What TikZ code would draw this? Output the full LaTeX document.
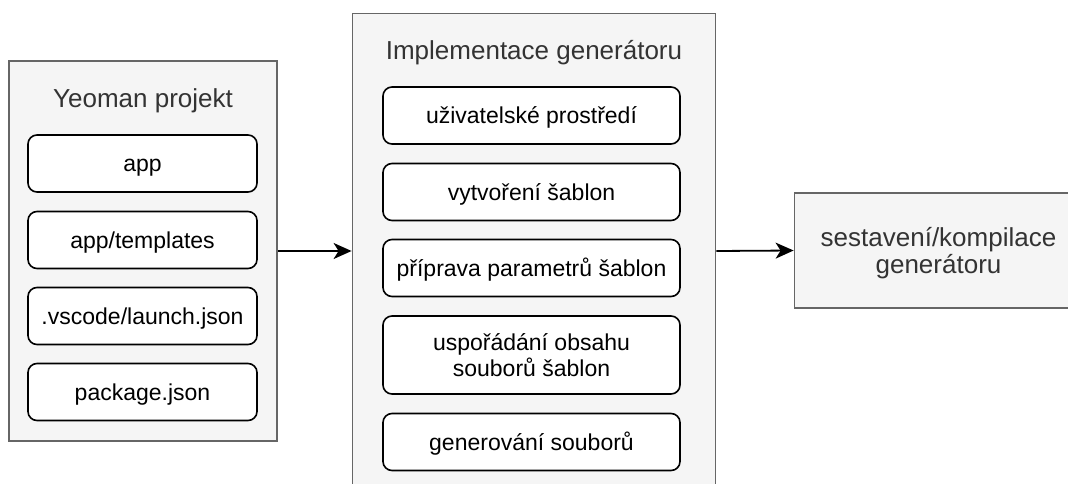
\documentclass[tikz,border=0pt]{standalone}
\usepackage{fontspec}
\setmainfont{Liberation Sans}
\usetikzlibrary{arrows.meta}
\definecolor{contfill}{HTML}{F5F5F5}
\definecolor{contdraw}{HTML}{666666}
\definecolor{conttext}{HTML}{333333}
\newcommand{\twolines}[2]{\begin{tabular}[t]{@{}c@{}}#1\\#2\end{tabular}}
\begin{document}
\begin{tikzpicture}[x=1pt,y=-1pt,
  container/.style={draw=contdraw,fill=contfill,line width=1.8pt,inner sep=0pt},
  title/.style={text=conttext,font=\fontsize{26}{27.5}\selectfont,inner sep=0pt},
  item/.style={draw=black,fill=white,line width=1.6pt,rounded corners=9pt,
    font=\fontsize{23}{26.5}\selectfont,inner sep=0pt,
    text height=16.5pt,text depth=0pt},
  flow/.style={line width=1.8pt,-{Stealth[length=18pt,width=16pt,inset=5pt]}}]
\useasboundingbox (0,0) rectangle (1068,484);
\clip (0,0) rectangle (1068,484);
% containers
\node[container,minimum width=268pt,minimum height=380pt] (yeo) at (143,251) {};
\node[container,minimum width=363pt,minimum height=475pt] (impl) at (534,251) {};
\node[container,minimum width=288pt,minimum height=114.5pt,text=conttext,
  font=\fontsize{26}{27.3}\selectfont,
  text height=18.6pt,text depth=27.3pt] (build) at (938.5,250.5)
  {\twolines{sestavení/kompilace}{generátoru}};
% titles
\node[title,anchor=base] (yeot) at (143,108) {Yeoman projekt};
\node[title,anchor=base] (implt) at (534,60) {Implementace generátoru};
% Yeoman items
\node[item,minimum width=229pt,minimum height=57pt] (app) at (142.5,163.5) {app};
\node[item,minimum width=229pt,minimum height=57pt] (tpl) at (142.5,240) {app/templates};
\node[item,minimum width=229pt,minimum height=57pt] (vsc) at (142.5,316) {.vscode/launch.json};
\node[item,minimum width=229pt,minimum height=57pt] (pkg) at (142.5,392) {package.json};
% implementation items
\node[item,minimum width=297pt,minimum height=57pt] (ui) at (531.5,115.5) {uživatelské prostředí};
\node[item,minimum width=297pt,minimum height=57pt] (mk) at (531.5,192) {vytvoření šablon};
\node[item,minimum width=297pt,minimum height=57pt] (par) at (531.5,268) {příprava parametrů šablon};
\node[item,minimum width=297pt,minimum height=78pt,text depth=26.5pt] (ord) at (531.5,355)
  {\twolines{uspořádání obsahu}{souborů šablon}};
\node[item,minimum width=297pt,minimum height=57pt] (gen) at (531.5,442) {generování souborů};
% connectors
\draw[flow] (yeo.east) -- (impl.west);
\draw[flow] (impl.east) -- (build.west);
\end{tikzpicture}
\end{document}
